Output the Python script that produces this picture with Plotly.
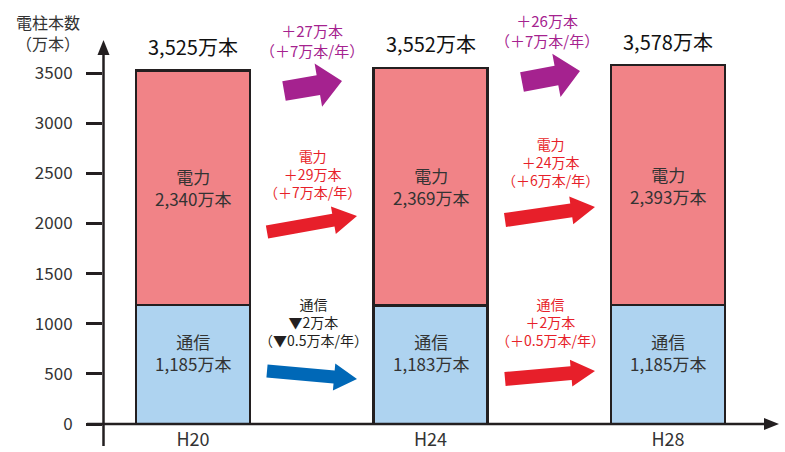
import math
import plotly.graph_objects as go

# 電柱本数（万本）
periods = ["H20", "H24", "H28"]
tsushin = [1185, 1183, 1185]   # 通信
denryoku = [2340, 2369, 2393]  # 電力
totals = [3525, 3552, 3578]
y_ticks = [0, 500, 1000, 1500, 2000, 2500, 3000, 3500]

FONT = "Noto Sans CJK JP"
INK = "#231f20"
PINK = "#f18387"
BLUE_FILL = "#aed3f0"
PURPLE = "#a5228f"
RED = "#e71f2a"
ARROW_BLUE = "#0068b7"

W, H = 785, 452
L, R, T, B = 103, 10, 20, 28
PW, PH = W - L - R, H - T - B


def px(x, y):
    """Pixel position in the page -> paper coordinates."""
    return (x - L) / PW, (H - B - y) / PH


x_idx = list(range(len(periods)))
fig = go.Figure()
fig.add_bar(x=x_idx, y=tsushin, name="通信", width=0.478,
            marker=dict(color=BLUE_FILL, line=dict(color=INK, width=2.5)))
fig.add_bar(x=x_idx, y=denryoku, name="電力", width=0.478,
            marker=dict(color=PINK, line=dict(color=INK, width=2.5)))

ann = []
shapes = []

# labels inside and above the bars
for i in x_idx:
    ann.append(dict(x=i, y=tsushin[i] + denryoku[i] / 2, xref="x", yref="y",
                    xanchor="center", yanchor="middle",
                    text=f"電力<br>{denryoku[i]:,}万本", showarrow=False,
                    font=dict(family=FONT, size=17, color="#333333")))
    ann.append(dict(x=i, y=tsushin[i] / 2, yshift=12, xref="x", yref="y",
                    xanchor="center", yanchor="middle",
                    text=f"通信<br>{tsushin[i]:,}万本", showarrow=False,
                    font=dict(family=FONT, size=17, color="#333333")))
    ann.append(dict(x=i, y=totals[i], yshift=24, xref="x", yref="y",
                    xanchor="center", yanchor="middle",
                    text=f"{totals[i]:,}万本", showarrow=False,
                    font=dict(family=FONT, size=20, color="#111111")))


def block_arrow(tail, tip, shaft_w, head_w, head_len, color):
    (x0, y0), (x1, y1) = tail, tip
    dx, dy = x1 - x0, y1 - y0
    ln = math.hypot(dx, dy)
    ux, uy = dx / ln, dy / ln
    nx, ny = -uy, ux
    bx, by = x1 - ux * head_len, y1 - uy * head_len
    pts = [
        (x0 + nx * shaft_w / 2, y0 + ny * shaft_w / 2),
        (bx + nx * shaft_w / 2, by + ny * shaft_w / 2),
        (bx + nx * head_w / 2, by + ny * head_w / 2),
        (x1, y1),
        (bx - nx * head_w / 2, by - ny * head_w / 2),
        (bx - nx * shaft_w / 2, by - ny * shaft_w / 2),
        (x0 - nx * shaft_w / 2, y0 - ny * shaft_w / 2),
    ]
    path = "M " + " L ".join(f"{px(a, b)[0]:.5f},{px(a, b)[1]:.5f}" for a, b in pts) + " Z"
    return dict(type="path", xref="paper", yref="paper", path=path,
                fillcolor=color, line=dict(width=0), layer="above")


# change arrows between periods
shapes += [
    block_arrow((284, 91), (342, 81), 20, 44, 24, PURPLE),
    block_arrow((522, 82), (580, 71), 20, 44, 24, PURPLE),
    block_arrow((267, 232), (357, 216), 13, 28, 24, RED),
    block_arrow((505, 220), (595, 207), 14, 28, 24, RED),
    block_arrow((267, 371), (357, 379), 13, 27, 23, ARROW_BLUE),
    block_arrow((505, 379), (595, 371), 14, 27, 24, RED),
]


def text_block(cx, cy, lines, color, size):
    xp, yp = px(cx, cy)
    ann.append(dict(x=xp, y=yp, xref="paper", yref="paper", text="<br>".join(lines),
                    xanchor="center", yanchor="middle",
                    showarrow=False, font=dict(family=FONT, size=size, color=color)))


text_block(312, 40, ["＋27万本", "（＋7万本/年）"], PURPLE, 15)
text_block(547, 30, ["＋26万本", "（＋7万本/年）"], PURPLE, 15)
text_block(312, 174, ["電力", "＋29万本", "（＋7万本/年）"], RED, 14)
text_block(550, 162, ["電力", "＋24万本", "（＋6万本/年）"], RED, 14)
text_block(313, 322, ["通信", "▼2万本", "（▼0.5万本/年）"], INK, 14)
text_block(550, 322, ["通信", "＋2万本", "（＋0.5万本/年）"], RED, 14)

# axis title
text_block(48, 32, ["電柱本数", "（万本）"], "#333333", 16)

# axes drawn with arrowheads
ax_x = 103.5
x0p, y_top = px(ax_x, 52)
_, y_bot = px(ax_x, 446)
shapes.append(dict(type="line", xref="paper", yref="paper", x0=x0p, x1=x0p,
                   y0=y_bot, y1=y_top, line=dict(color=INK, width=2.5), layer="above"))
ha = [px(ax_x, 40), px(ax_x - 6, 55), px(ax_x + 6, 55)]
shapes.append(dict(type="path", xref="paper", yref="paper",
                   path="M " + " L ".join(f"{a:.5f},{b:.5f}" for a, b in ha) + " Z",
                   fillcolor=INK, line=dict(width=0), layer="above"))
xl, yl = px(87, 424)
xr, _ = px(766, 424)
shapes.append(dict(type="line", xref="paper", yref="paper", x0=xl, x1=xr,
                   y0=yl, y1=yl, line=dict(color=INK, width=2.5), layer="above"))
hb = [px(779, 424), px(764, 418), px(764, 430)]
shapes.append(dict(type="path", xref="paper", yref="paper",
                   path="M " + " L ".join(f"{a:.5f},{b:.5f}" for a, b in hb) + " Z",
                   fillcolor=INK, line=dict(width=0), layer="above"))

px_per_unit = 50.14 / 500
y_max = PH / px_per_unit
spacing = 237.5
x_lo = -(193 - L) / spacing
x_hi = x_lo + PW / spacing

fig.update_layout(
    width=W, height=H,
    margin=dict(l=L, r=R, t=T, b=B, pad=0, autoexpand=False),
    paper_bgcolor="white", plot_bgcolor="white",
    barmode="stack", showlegend=False,
    font=dict(family=FONT, color=INK),
    xaxis=dict(range=[x_lo, x_hi], tickvals=x_idx, ticktext=periods,
               showgrid=False, zeroline=False, showline=False, ticks="",
               ticklabelstandoff=3, automargin=False,
               tickfont=dict(family=FONT, size=18, color="#333333")),
    yaxis=dict(range=[0, y_max], tickvals=y_ticks, showgrid=False, zeroline=False,
               showline=False, ticks="outside", ticklen=16, tickwidth=2.5,
               tickcolor=INK, ticklabelstandoff=10, automargin=False,
               tickfont=dict(family=FONT, size=17, color="#333333")),
    annotations=ann,
    shapes=shapes,
)

fig.write_html("out.html")
